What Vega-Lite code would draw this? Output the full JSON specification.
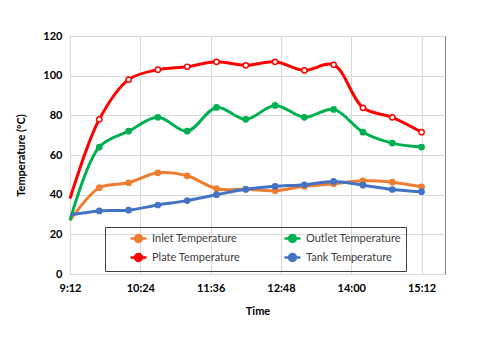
{
  "$schema": "https://vega.github.io/schema/vega-lite/v6.json",
  "autosize": {"type": "none"},
  "width": 375,
  "height": 238,
  "padding": {"left": 70, "top": 36, "right": 35, "bottom": 64},
  "background": "white",
  "config": {
    "font": "Lato",
    "view": {"stroke": "#7f7f7f", "strokeWidth": 1},
    "axis": {"gridColor": "#d9d9d9", "gridWidth": 1, "domain": false, "ticks": false, "labelFontWeight": "bold", "labelFontSize": 11, "labelColor": "#000", "titleFontWeight": "bold", "titleFontSize": 11, "titleColor": "#000"}
  },
  "data": {"values": [
    {"time": "2024-01-01T09:12", "series": "Inlet Temperature", "value": 27},
    {"time": "2024-01-01T09:42", "series": "Inlet Temperature", "value": 43.5},
    {"time": "2024-01-01T10:12", "series": "Inlet Temperature", "value": 46},
    {"time": "2024-01-01T10:42", "series": "Inlet Temperature", "value": 51},
    {"time": "2024-01-01T11:12", "series": "Inlet Temperature", "value": 49.5},
    {"time": "2024-01-01T11:42", "series": "Inlet Temperature", "value": 43},
    {"time": "2024-01-01T12:12", "series": "Inlet Temperature", "value": 42.7},
    {"time": "2024-01-01T12:42", "series": "Inlet Temperature", "value": 42},
    {"time": "2024-01-01T13:12", "series": "Inlet Temperature", "value": 44.2},
    {"time": "2024-01-01T13:42", "series": "Inlet Temperature", "value": 45.5},
    {"time": "2024-01-01T14:12", "series": "Inlet Temperature", "value": 47},
    {"time": "2024-01-01T14:42", "series": "Inlet Temperature", "value": 46.3},
    {"time": "2024-01-01T15:12", "series": "Inlet Temperature", "value": 44},
    {"time": "2024-01-01T09:12", "series": "Outlet Temperature", "value": 27},
    {"time": "2024-01-01T09:42", "series": "Outlet Temperature", "value": 64},
    {"time": "2024-01-01T10:12", "series": "Outlet Temperature", "value": 72},
    {"time": "2024-01-01T10:42", "series": "Outlet Temperature", "value": 79},
    {"time": "2024-01-01T11:12", "series": "Outlet Temperature", "value": 72},
    {"time": "2024-01-01T11:42", "series": "Outlet Temperature", "value": 84},
    {"time": "2024-01-01T12:12", "series": "Outlet Temperature", "value": 78},
    {"time": "2024-01-01T12:42", "series": "Outlet Temperature", "value": 85},
    {"time": "2024-01-01T13:12", "series": "Outlet Temperature", "value": 79},
    {"time": "2024-01-01T13:42", "series": "Outlet Temperature", "value": 83},
    {"time": "2024-01-01T14:12", "series": "Outlet Temperature", "value": 71.5},
    {"time": "2024-01-01T14:42", "series": "Outlet Temperature", "value": 66},
    {"time": "2024-01-01T15:12", "series": "Outlet Temperature", "value": 64},
    {"time": "2024-01-01T09:12", "series": "Plate Temperature", "value": 38},
    {"time": "2024-01-01T09:42", "series": "Plate Temperature", "value": 78},
    {"time": "2024-01-01T10:12", "series": "Plate Temperature", "value": 98},
    {"time": "2024-01-01T10:42", "series": "Plate Temperature", "value": 103},
    {"time": "2024-01-01T11:12", "series": "Plate Temperature", "value": 104.5},
    {"time": "2024-01-01T11:42", "series": "Plate Temperature", "value": 107},
    {"time": "2024-01-01T12:12", "series": "Plate Temperature", "value": 105.2},
    {"time": "2024-01-01T12:42", "series": "Plate Temperature", "value": 107},
    {"time": "2024-01-01T13:12", "series": "Plate Temperature", "value": 102.7},
    {"time": "2024-01-01T13:42", "series": "Plate Temperature", "value": 105.5},
    {"time": "2024-01-01T14:12", "series": "Plate Temperature", "value": 83.8},
    {"time": "2024-01-01T14:42", "series": "Plate Temperature", "value": 79},
    {"time": "2024-01-01T15:12", "series": "Plate Temperature", "value": 71.5},
    {"time": "2024-01-01T09:12", "series": "Tank Temperature", "value": 29.8},
    {"time": "2024-01-01T09:42", "series": "Tank Temperature", "value": 31.8},
    {"time": "2024-01-01T10:12", "series": "Tank Temperature", "value": 32.2},
    {"time": "2024-01-01T10:42", "series": "Tank Temperature", "value": 34.8},
    {"time": "2024-01-01T11:12", "series": "Tank Temperature", "value": 37},
    {"time": "2024-01-01T11:42", "series": "Tank Temperature", "value": 40},
    {"time": "2024-01-01T12:12", "series": "Tank Temperature", "value": 42.7},
    {"time": "2024-01-01T12:42", "series": "Tank Temperature", "value": 44.2},
    {"time": "2024-01-01T13:12", "series": "Tank Temperature", "value": 45},
    {"time": "2024-01-01T13:42", "series": "Tank Temperature", "value": 46.7},
    {"time": "2024-01-01T14:12", "series": "Tank Temperature", "value": 44.8},
    {"time": "2024-01-01T14:42", "series": "Tank Temperature", "value": 42.6},
    {"time": "2024-01-01T15:12", "series": "Tank Temperature", "value": 41.5}
  ]},
  "encoding": {
    "x": {
      "field": "time", "type": "temporal", "title": "Time",
      "scale": {"domain": [{"year": 2024, "month": 1, "date": 1, "hours": 9, "minutes": 12}, {"year": 2024, "month": 1, "date": 1, "hours": 15, "minutes": 36}]},
      "axis": {
        "format": "%-H:%M", "labelPadding": 8, "titlePadding": 12, "labelFlush": false,
        "values": [
          {"year": 2024, "month": 1, "date": 1, "hours": 9, "minutes": 12},
          {"year": 2024, "month": 1, "date": 1, "hours": 10, "minutes": 24},
          {"year": 2024, "month": 1, "date": 1, "hours": 11, "minutes": 36},
          {"year": 2024, "month": 1, "date": 1, "hours": 12, "minutes": 48},
          {"year": 2024, "month": 1, "date": 1, "hours": 14, "minutes": 0},
          {"year": 2024, "month": 1, "date": 1, "hours": 15, "minutes": 12}
        ]
      }
    },
    "y": {
      "field": "value", "type": "quantitative", "title": "Temperature (ºC)",
      "scale": {"domain": [0, 120], "nice": false},
      "axis": {"values": [0, 20, 40, 60, 80, 100, 120], "labelPadding": 8, "titlePadding": 16}
    }
  },
  "layer": [
    {
      "mark": {"type": "line", "interpolate": "catmull-rom", "strokeWidth": 3},
      "encoding": {
        "color": {
          "field": "series", "type": "nominal",
          "scale": {"domain": ["Inlet Temperature", "Outlet Temperature", "Plate Temperature", "Tank Temperature"], "range": ["#ED7D31", "#00B050", "#FF0000", "#4472C4"]},
          "legend": {
            "title": null, "orient": "none", "legendX": 35, "legendY": 191, "columns": 2,
            "direction": "horizontal",
            "strokeColor": "#404040", "padding": 5, "columnPadding": 23, "rowPadding": 2,
            "labelFontSize": 11, "labelColor": "#404040", "labelFont": "Lato",
            "symbolType": "M-1.6,0H1.6M-0.7,0A0.7,0.7 0 1,0 0.7,0A0.7,0.7 0 1,0 -0.7,0Z",
            "symbolSize": 100, "symbolStrokeWidth": 2.5, "symbolOffset": 22, "labelOffset": 7
          }
        }
      }
    },
    {
      "transform": [{"filter": "hours(datum.time) * 60 + minutes(datum.time) > 552"}],
      "mark": {"type": "point", "filled": true, "size": 45, "opacity": 1},
      "encoding": {"color": {"field": "series", "type": "nominal"}}
    },
    {
      "transform": [
        {"filter": "datum.series === 'Plate Temperature'"},
        {"filter": "hours(datum.time) * 60 + minutes(datum.time) > 552"}
      ],
      "mark": {"type": "point", "filled": true, "size": 14, "color": "#ffffff", "opacity": 1}
    }
  ]
}
